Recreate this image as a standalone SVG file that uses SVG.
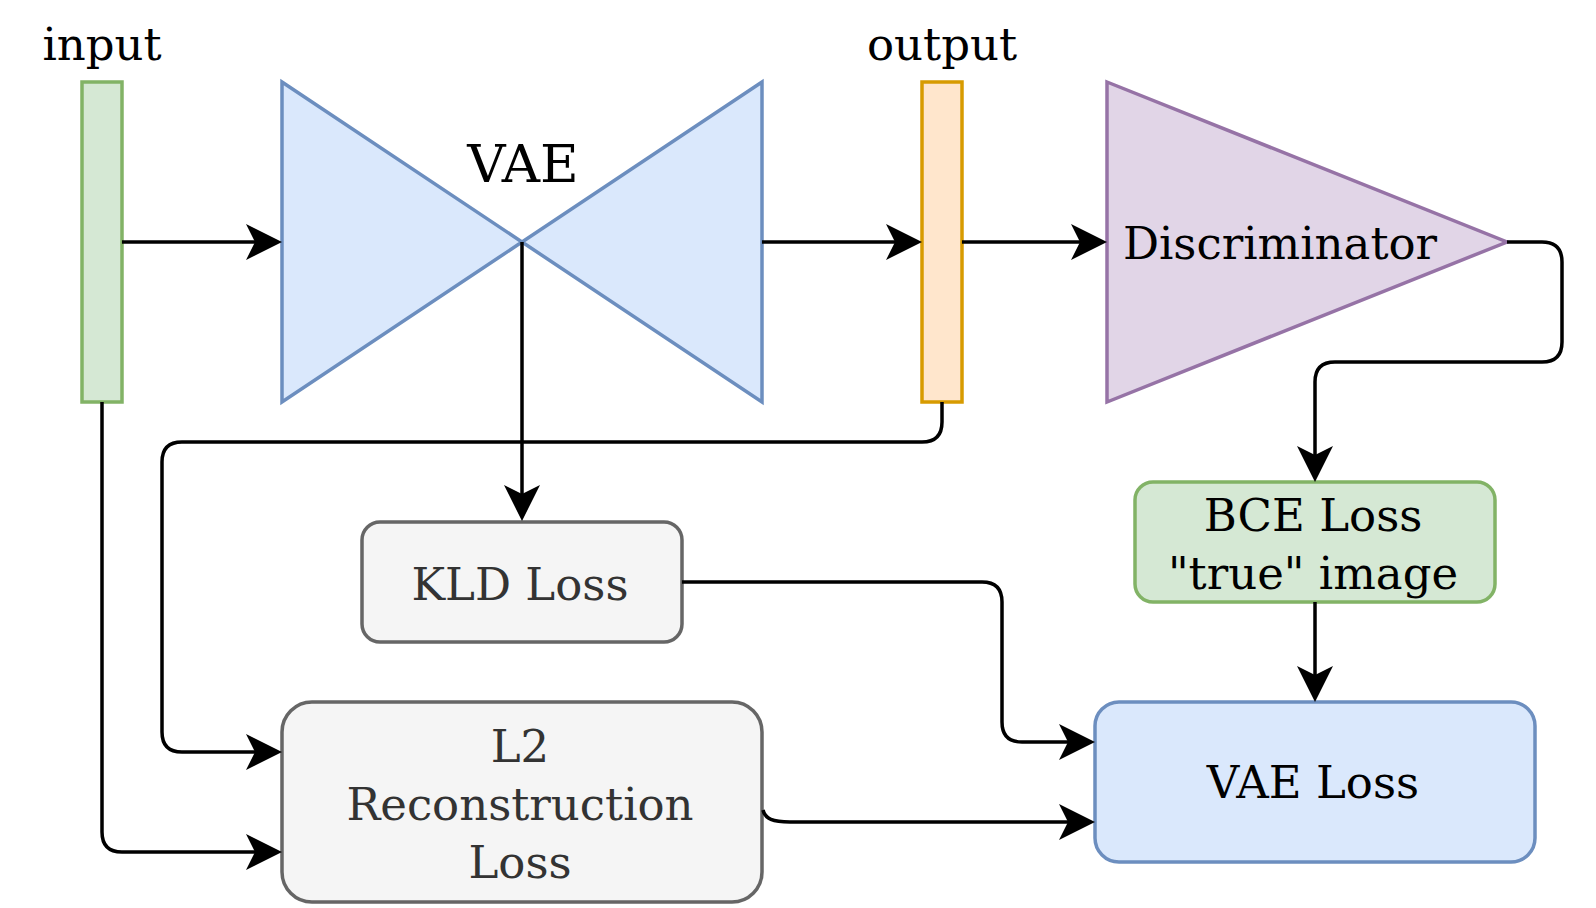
<svg xmlns="http://www.w3.org/2000/svg" width="1596" height="908" viewBox="0 0 1596 908">
<style>
  text { font-family: "DejaVu Serif", "Liberation Serif", serif; font-size: 45px; text-anchor: middle; fill: #000000; }
  .gray { fill: #333333; }
  .edge { fill: none; stroke: #000000; stroke-width: 3.5; stroke-linejoin: round; }
  .shape { stroke-width: 3.5; }
</style>
<defs>
  <marker id="arrow" markerUnits="userSpaceOnUse" viewBox="-20 -20 42 40" refX="0" refY="0" markerWidth="42" markerHeight="40" orient="auto">
    <path d="M20,0 L-16,-18 L-7,0 L-16,18 Z" fill="#000000" stroke="none"/>
  </marker>
</defs>
<rect width="1596" height="908" fill="#ffffff"/>

<g id="input">
  <rect class="shape" x="82" y="82" width="40" height="320" fill="#d5e8d4" stroke="#82b366"/>
  <text x="102" y="59.5">input</text>
</g>

<g id="vae">
  <polygon class="shape" points="282,82 522,242 282,402" fill="#dae8fc" stroke="#6c8ebf"/>
  <polygon class="shape" points="762,82 522,242 762,402" fill="#dae8fc" stroke="#6c8ebf"/>
  <text x="523" y="181.5" style="font-size:53px">VAE</text>
</g>

<g id="output">
  <rect class="shape" x="922" y="82" width="40" height="320" fill="#ffe6cc" stroke="#d79b00"/>
  <text x="942" y="60">output</text>
</g>

<g id="discriminator">
  <polygon class="shape" points="1107,82 1507,242 1107,402" fill="#e1d5e7" stroke="#9673a6"/>
  <text x="1280" y="259">Discriminator</text>
</g>

<g id="kld-loss">
  <rect class="shape" x="362" y="522" width="320" height="120" rx="18" ry="18" fill="#f5f5f5" stroke="#666666"/>
  <text class="gray" x="520" y="600">KLD Loss</text>
</g>

<g id="l2-loss">
  <rect class="shape" x="282" y="702" width="480" height="200" rx="30" ry="30" fill="#f5f5f5" stroke="#666666"/>
  <text class="gray" x="520" y="761.5">L2</text>
  <text class="gray" x="520" y="819.5">Reconstruction</text>
  <text class="gray" x="520" y="877.5">Loss</text>
</g>

<g id="bce-loss">
  <rect class="shape" x="1135" y="482" width="360" height="120" rx="18" ry="18" fill="#d5e8d4" stroke="#82b366"/>
  <text x="1313" y="530.5">BCE Loss</text>
  <text x="1313" y="588.5">"true" image</text>
</g>

<g id="vae-loss">
  <rect class="shape" x="1095" y="702" width="440" height="160" rx="24" ry="24" fill="#dae8fc" stroke="#6c8ebf"/>
  <text x="1313" y="798">VAE Loss</text>
</g>

<g id="connectors">
  <path class="edge" marker-end="url(#arrow)" d="M122,242 L262,242"/>
  <path class="edge" marker-end="url(#arrow)" d="M762,242 L902,242"/>
  <path class="edge" marker-end="url(#arrow)" d="M962,242 L1087,242"/>
  <path class="edge" marker-end="url(#arrow)" d="M1507,242 L1542,242 Q1562,242 1562,262 L1562,342 Q1562,362 1542,362 L1335,362 Q1315,362 1315,382 L1315,462"/>
  <path class="edge" marker-end="url(#arrow)" d="M522,242 L522,501"/>
  <path class="edge" marker-end="url(#arrow)" d="M942,402 L942,422 Q942,442 922,442 L182,442 Q162,442 162,462 L162,732 Q162,752 182,752 L262,752"/>
  <path class="edge" marker-end="url(#arrow)" d="M102,402 L102,832 Q102,852 122,852 L262,852"/>
  <path class="edge" marker-end="url(#arrow)" d="M682,582 L982,582 Q1002,582 1002,602 L1002,722 Q1002,742 1022,742 L1075,742"/>
  <path class="edge" marker-end="url(#arrow)" d="M763,810 C765,819 773,822 790,822 L1075,822"/>
  <path class="edge" marker-end="url(#arrow)" d="M1315,602 L1315,682"/>
</g>
</svg>
